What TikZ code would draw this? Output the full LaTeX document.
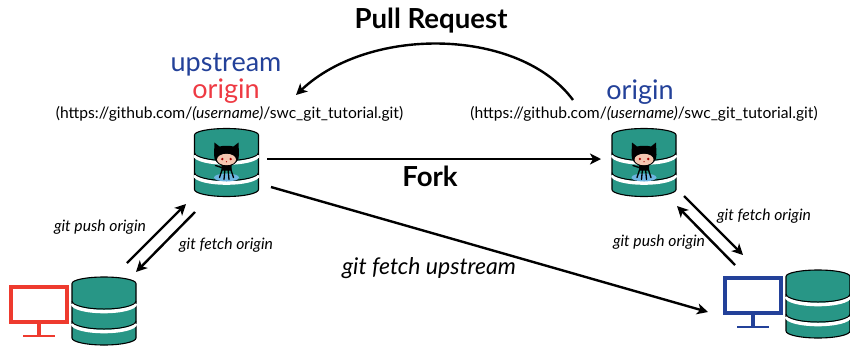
\documentclass[tikz,border=0pt]{standalone}
\usepackage{fontspec}
\setmainfont{Lato}
\usetikzlibrary{arrows.meta}
\definecolor{dbteal}{HTML}{289686}
\definecolor{redc}{HTML}{EE3A2E}
\definecolor{redt}{HTML}{EE3A43}
\definecolor{bluec}{HTML}{234199}
\definecolor{waterc}{HTML}{6DB5E2}
\definecolor{facec}{HTML}{F4C6B0}
\tikzset{
 conn/.style={-{Stealth[length=11pt,width=11pt,inset=3pt]},line width=2.4pt,black},
 lbl/.style={font=\fontsize{15.7}{17}\selectfont\itshape,inner sep=0pt},
 url/.style={font=\fontsize{15.65}{17}\selectfont,inner sep=0pt},
 title/.style={font=\fontsize{27.6}{30}\selectfont\bfseries,inner sep=0pt},
 head/.style={font=\fontsize{27}{30}\selectfont,inner sep=0pt},
 dbpic/.pic={
  \fill[dbteal,draw=black,line width=1.1pt] (-32,-27.5) arc[x radius=32,y radius=6.5,start angle=180,end angle=360] -- (32,27) arc[x radius=32,y radius=7,start angle=0,end angle=180] -- cycle;
  \draw[white,line width=3.6pt] (-31.5,-7.5) arc[x radius=31.5,y radius=8,start angle=180,end angle=0];
  \draw[black,line width=1pt] (-32,-10) arc[x radius=32,y radius=8,start angle=180,end angle=0];
  \draw[white,line width=3.6pt] (-31.5,12.5) arc[x radius=31.5,y radius=8,start angle=180,end angle=0];
  \draw[black,line width=1pt] (-32,10) arc[x radius=32,y radius=8,start angle=180,end angle=0];
 },
 cat/.pic={
  \fill[waterc] (0,15) ellipse[x radius=12.5,y radius=4];
  \fill[black] (-12,-20) -- (-7,-16) .. controls (-3,-17) and (3,-17) .. (7,-16) -- (12,-20) -- (12.5,-8) .. controls (13,-2) and (8,2) .. (5,3) -- (5,8) -- (-5,8) -- (-5,3) .. controls (-8,2) and (-13,-2) .. (-12.5,-8) -- cycle;
  \draw[black,line width=1.3pt,line cap=round] (-4,6) -- (-7,15) (-1.5,6) -- (-2.5,17) (1.5,6) -- (2.5,17) (4,6) -- (7,15) (-5,5) -- (-11,3);
  \fill[facec] (0,-3) ellipse[x radius=9.5,y radius=5.7];
  \fill[red!65!black] (-4.2,-3.5) circle[radius=1.3] (4.2,-3.5) circle[radius=1.3] (0,-.8) circle[radius=.7];
 },
 monpic/.pic={
  \draw[line width=3.6pt,pic actions] (-28,-20) rectangle (28,15);
  \draw[line width=3.2pt,pic actions] (0,17) -- (0,29);
  \draw[line width=1.8pt,pic actions] (-16,29) -- (16,29);
 }
}
\begin{document}
\begin{tikzpicture}[x=1pt,y=-1pt]
\useasboundingbox (0,0) rectangle (850,346);
% stores
\coordinate (upstreamdb) at (226.5,162.5);
\coordinate (origindb) at (644,162.5);
\coordinate (localdb) at (104,311);
\coordinate (remotedb) at (818,304);
\pic at (upstreamdb) {dbpic};
\pic at (origindb) {dbpic};
\pic at (localdb) {dbpic};
\pic at (remotedb) {dbpic};
\pic at (upstreamdb) {cat};
\pic at (origindb) {cat};
\pic[draw=redc] at (39,307) {monpic};
\pic[draw=bluec] at (753,298) {monpic};
% texts
\node[title] (pr) at (431,21) {Pull Request};
\node[title] (fork) at (430,176) {Fork};
\node[head,text=bluec] (upname) at (226,65) {upstream};
\node[head,text=redt] (orname) at (226,91) {origin};
\node[head,text=bluec] (rname) at (640,92) {origin};
\node[url] (urla) at (229.5,114) {(https://github.com/\textit{(username)}/swc\_git\_tutorial.git)};
\node[url] (urlb) at (644,114) {(https://github.com/\textit{(username)}/swc\_git\_tutorial.git)};
\node[lbl] (l1) at (100,227) {git push origin};
\node[lbl] (l2) at (226,245) {git fetch origin};
\node[lbl] (l3) at (764,216) {git fetch origin};
\node[lbl] (l4) at (659,242) {git push origin};
\node[font=\fontsize{23}{26}\selectfont\itshape,inner sep=0pt] (l5) at (429,268) {git fetch upstream};
% connector ends
\coordinate (prs) at (573,100);
\coordinate (pre) at (296,95);
\coordinate (fs) at (267,159);
\coordinate (fe) at (601,159);
\coordinate (us) at (271,187);
\coordinate (ue) at (708,312);
\coordinate (pa) at (127,263);
\coordinate (pb) at (186,204);
\coordinate (fa) at (195,212);
\coordinate (fb) at (136,272);
\coordinate (ra) at (677,206);
\coordinate (rb) at (735,265);
\coordinate (sa) at (684,196);
\coordinate (sb) at (743,255);
\draw[conn] (prs) .. controls (520,28) and (370,25) .. (pre);
\draw[conn] (fs) -- (fe);
\draw[conn] (us) -- (ue);
\draw[conn] (pa) -- (pb);
\draw[conn] (fa) -- (fb);
\draw[conn] (rb) -- (ra);
\draw[conn] (sa) -- (sb);
\end{tikzpicture}
\end{document}
